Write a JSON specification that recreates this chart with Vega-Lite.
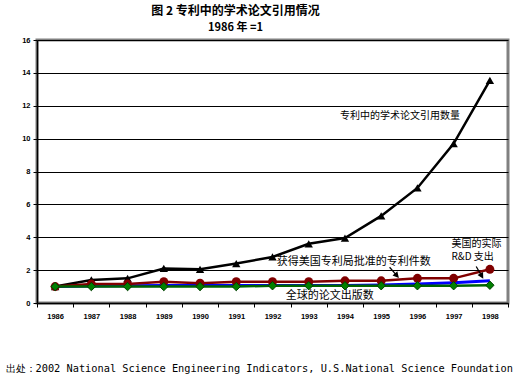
{
  "$schema": "https://vega.github.io/schema/vega-lite/v6.json",
  "autosize": {"type": "none"},
  "width": 471,
  "height": 263,
  "padding": {"left": 37, "top": 40, "right": 12, "bottom": 87},
  "background": "white",
  "config": {
    "view": {"stroke": "#808080", "strokeWidth": 3},
    "font": "Liberation Sans"
  },
  "title": {
    "text": "图 2 专利中的学术论文引用情况",
    "subtitle": "1986 年 =1",
    "font": "Noto Sans CJK SC",
    "fontSize": 12,
    "fontWeight": "bold",
    "subtitleFont": "Noto Sans CJK SC",
    "subtitleFontSize": 11,
    "subtitleFontWeight": "bold",
    "subtitleColor": "black",
    "subtitlePadding": 4,
    "anchor": "middle",
    "dx": -37,
    "offset": 2,
    "color": "black"
  },
  "data": {
    "values": [
      {"year": 1986, "series": "citations", "value": 1.0},
      {"year": 1987, "series": "citations", "value": 1.4},
      {"year": 1988, "series": "citations", "value": 1.5},
      {"year": 1989, "series": "citations", "value": 2.1},
      {"year": 1990, "series": "citations", "value": 2.05},
      {"year": 1991, "series": "citations", "value": 2.4},
      {"year": 1992, "series": "citations", "value": 2.8},
      {"year": 1993, "series": "citations", "value": 3.6},
      {"year": 1994, "series": "citations", "value": 3.95},
      {"year": 1995, "series": "citations", "value": 5.3},
      {"year": 1996, "series": "citations", "value": 7.0},
      {"year": 1997, "series": "citations", "value": 9.7},
      {"year": 1998, "series": "citations", "value": 13.55},
      {"year": 1986, "series": "patents", "value": 1.0},
      {"year": 1987, "series": "patents", "value": 1.15},
      {"year": 1988, "series": "patents", "value": 1.15},
      {"year": 1989, "series": "patents", "value": 1.3},
      {"year": 1990, "series": "patents", "value": 1.2},
      {"year": 1991, "series": "patents", "value": 1.3},
      {"year": 1992, "series": "patents", "value": 1.3},
      {"year": 1993, "series": "patents", "value": 1.3},
      {"year": 1994, "series": "patents", "value": 1.35},
      {"year": 1995, "series": "patents", "value": 1.35},
      {"year": 1996, "series": "patents", "value": 1.5},
      {"year": 1997, "series": "patents", "value": 1.5},
      {"year": 1998, "series": "patents", "value": 2.05},
      {"year": 1986, "series": "rd", "value": 1.0},
      {"year": 1987, "series": "rd", "value": 1.03},
      {"year": 1988, "series": "rd", "value": 1.05},
      {"year": 1989, "series": "rd", "value": 1.06},
      {"year": 1990, "series": "rd", "value": 1.07},
      {"year": 1991, "series": "rd", "value": 1.07},
      {"year": 1992, "series": "rd", "value": 1.07},
      {"year": 1993, "series": "rd", "value": 1.06},
      {"year": 1994, "series": "rd", "value": 1.06},
      {"year": 1995, "series": "rd", "value": 1.1},
      {"year": 1996, "series": "rd", "value": 1.15},
      {"year": 1997, "series": "rd", "value": 1.23},
      {"year": 1998, "series": "rd", "value": 1.35},
      {"year": 1986, "series": "pubs", "value": 1.0},
      {"year": 1987, "series": "pubs", "value": 1.0},
      {"year": 1988, "series": "pubs", "value": 1.0},
      {"year": 1989, "series": "pubs", "value": 1.0},
      {"year": 1990, "series": "pubs", "value": 1.0},
      {"year": 1991, "series": "pubs", "value": 1.0},
      {"year": 1992, "series": "pubs", "value": 1.05},
      {"year": 1993, "series": "pubs", "value": 1.05},
      {"year": 1994, "series": "pubs", "value": 1.05},
      {"year": 1995, "series": "pubs", "value": 1.05},
      {"year": 1996, "series": "pubs", "value": 1.05},
      {"year": 1997, "series": "pubs", "value": 1.05},
      {"year": 1998, "series": "pubs", "value": 1.08}
    ]
  },
  "encoding": {
    "x": {
      "field": "year",
      "type": "ordinal",
      "bandPosition": 0.5,
      "scale": {"type": "band", "paddingInner": 0, "paddingOuter": 0},
      "axis": {
        "title": "出处：2002 National Science Engineering Indicators, U.S.National Science Foundation",
        "titleFont": "DejaVu Sans Mono",
        "titleFontSize": 10.3,
        "titleFontWeight": "normal",
        "titleColor": "black",
        "titleAlign": "left",
        "titleAnchor": "start",
        "titleBaseline": "middle",
        "titleX": -32,
        "titleY": 65,
        "labelAngle": 0,
        "labelFont": "Liberation Sans",
        "labelFontSize": 7.5,
        "labelFontWeight": "bold",
        "labelColor": "black",
        "labelPadding": 5,
        "tickBand": "extent",
        "tickColor": "black",
        "tickSize": 4,
        "domainColor": "black",
        "domainWidth": 1.5,
        "grid": false
      }
    },
    "y": {
      "field": "value",
      "type": "quantitative",
      "scale": {"domain": [0, 16], "nice": false},
      "axis": {
        "title": null,
        "values": [0, 2, 4, 6, 8, 10, 12, 14, 16],
        "labelFont": "Liberation Sans",
        "labelFontSize": 7.5,
        "labelFontWeight": "bold",
        "labelColor": "black",
        "labelPadding": 3,
        "tickColor": "black",
        "tickSize": 4,
        "domainColor": "black",
        "domainWidth": 1.5,
        "grid": true,
        "gridColor": "black",
        "gridWidth": 1,
        "gridOpacity": 1
      }
    }
  },
  "layer": [
    {
      "transform": [{"filter": "datum.series === 'rd'"}],
      "mark": {"type": "line", "color": "#0000ff", "strokeWidth": 3}
    },
    {
      "transform": [{"filter": "datum.series === 'citations'"}],
      "mark": {"type": "line", "color": "black", "strokeWidth": 2.5, "point": {"shape": "triangle-up", "size": 70, "filled": true, "color": "black"}}
    },
    {
      "transform": [{"filter": "datum.series === 'patents'"}],
      "mark": {"type": "line", "color": "#800000", "strokeWidth": 2.5, "point": {"shape": "circle", "size": 80, "filled": true, "color": "#800000"}}
    },
    {
      "transform": [{"filter": "datum.series === 'pubs'"}],
      "mark": {"type": "line", "color": "#006400", "strokeWidth": 2.5, "point": {"shape": "diamond", "size": 70, "filled": true, "color": "#008000", "stroke": "#004000", "strokeWidth": 1}}
    },
    {
      "transform": [{"filter": "datum.series === 'citations' && datum.year === 1986"}],
      "mark": {"type": "text", "font": "Noto Sans CJK SC", "fontSize": 10, "color": "black", "align": "center", "baseline": "middle"},
      "encoding": {
        "x": {"datum": 1996, "type": "ordinal", "bandPosition": 0.02},
        "y": {"datum": 11.37, "type": "quantitative"},
        "text": {"value": "专利中的学术论文引用数量"}
      }
    },
    {
      "transform": [{"filter": "datum.series === 'patents' && datum.year === 1986"}],
      "mark": {"type": "text", "font": "Noto Sans CJK SC", "fontSize": 11, "color": "black", "align": "center", "baseline": "middle"},
      "encoding": {
        "x": {"datum": 1994, "type": "ordinal", "bandPosition": 0.74},
        "y": {"datum": 2.49, "type": "quantitative"},
        "text": {"value": "获得美国专利局批准的专利件数"}
      }
    },
    {
      "transform": [{"filter": "datum.series === 'pubs' && datum.year === 1986"}],
      "mark": {"type": "text", "font": "Noto Sans CJK SC", "fontSize": 11, "color": "black", "align": "center", "baseline": "middle"},
      "encoding": {
        "x": {"datum": 1994, "type": "ordinal", "bandPosition": 0.08},
        "y": {"datum": 0.45, "type": "quantitative"},
        "text": {"value": "全球的论文出版数"}
      }
    },
    {
      "transform": [{"filter": "datum.series === 'rd' && datum.year === 1986"}],
      "mark": {"type": "text", "font": "Noto Sans CJK SC", "fontSize": 10, "color": "black", "align": "left", "baseline": "middle"},
      "encoding": {
        "x": {"datum": 1997, "type": "ordinal", "bandPosition": 0.44},
        "y": {"datum": 3.6, "type": "quantitative"},
        "text": {"value": "美国的实际"}
      }
    },
    {
      "transform": [{"filter": "datum.series === 'rd' && datum.year === 1987"}],
      "mark": {"type": "text", "font": "Noto Sans CJK SC", "fontSize": 10, "color": "black", "align": "left", "baseline": "middle"},
      "encoding": {
        "x": {"datum": 1997, "type": "ordinal", "bandPosition": 0.44},
        "y": {"datum": 2.8, "type": "quantitative"},
        "text": {"value": "R&D 支出"}
      }
    },
    {
      "transform": [{"filter": "datum.series === 'patents' && datum.year === 1995"}],
      "mark": {"type": "point", "shape": "M-0.09,-1 L0.09,-1 L0.09,0.15 L0.45,0.15 L0,1 L-0.45,0.15 L-0.09,0.15 Z", "size": 200, "angle": -41, "filled": true, "color": "black", "opacity": 1},
      "encoding": {
        "x": {"datum": 1995, "type": "ordinal", "bandPosition": 0.86},
        "y": {"datum": 1.85, "type": "quantitative"}
      }
    },
    {
      "transform": [{"filter": "datum.series === 'rd' && datum.year === 1998"}],
      "mark": {"type": "point", "shape": "M-0.09,-1 L0.09,-1 L0.09,0.15 L0.45,0.15 L0,1 L-0.45,0.15 L-0.09,0.15 Z", "size": 200, "angle": -30, "filled": true, "color": "black", "opacity": 1},
      "encoding": {
        "x": {"datum": 1998, "type": "ordinal", "bandPosition": 0.22},
        "y": {"datum": 1.85, "type": "quantitative"}
      }
    }
  ]
}
